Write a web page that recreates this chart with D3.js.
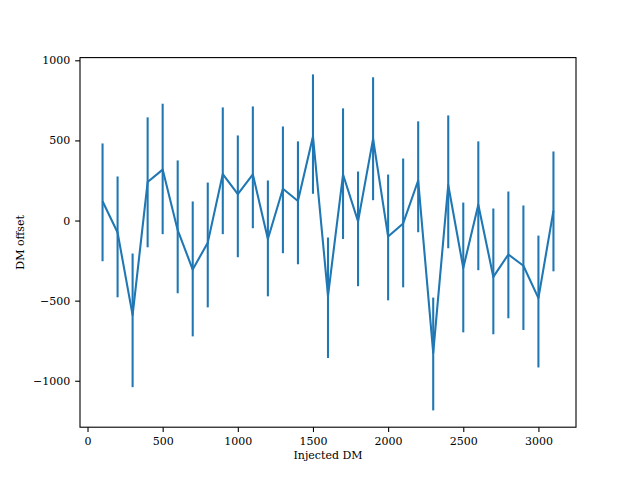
<!DOCTYPE html>
<html>
<head>
<meta charset="utf-8">
<script src="https://cdn.jsdelivr.net/npm/d3@7"></script>
<style>
  body { margin: 0; background: #fff; }
  text { font-family: "DejaVu Serif", serif; fill: #000; }
</style>
</head>
<body>
<div id="chart"></div>
<script>
// injected DM values and the recovered offsets
const injectedDM = [100, 200, 300, 400, 500, 600, 700, 800, 900, 1000,
  1100, 1200, 1300, 1400, 1500, 1600, 1700, 1800, 1900, 2000,
  2100, 2200, 2300, 2400, 2500, 2600, 2700, 2800, 2900, 3000, 3100]
const dmOffset = [120, -75, -590, 240, 318, -60, -306, -138, 290, 165,
  288, -115, 198, 122, 525, -470, 287, -5, 510, -100,
  -18, 250, -826, 222, -296, 99, -352, -212, -282, -484, 62]
// bottom / top of each error bar
const errLow = [-254, -479, -1040, -167, -85, -454, -723, -542, -85, -229,
  -48, -473, -204, -273, 167, -858, -115, -410, 127, -498,
  -417, -73, -1185, -173, -698, -310, -710, -610, -683, -917, -317]
const errHigh = [481, 275, -206, 644, 729, 375, 119, 237, 706, 531,
  712, 250, 587, 494, 912, -106, 700, 306, 894, 287,
  387, 619, -481, 656, 112, 494, 75, 181, 94, -94, 431]

const xTicks = [0, 500, 1000, 1500, 2000, 2500, 3000]
const yTicks = [-1000, -500, 0, 500, 1000]

const W = 640, H = 480
const MARGIN = {TOP: 57.6, RIGHT: 64, BOTTOM: 52.8, LEFT: 80}
const WIDTH = W - MARGIN.LEFT - MARGIN.RIGHT
const HEIGHT = H - MARGIN.TOP - MARGIN.BOTTOM
const BLUE = "#1f77b4"
const TICK = 4.86

const data = injectedDM.map(function(d, i) {
  return {dm: d, off: dmOffset[i], lo: errLow[i], hi: errHigh[i]}
})

const svg = d3.select("#chart").append("svg")
  .attr("width", W)
  .attr("height", H)

const g = svg.append("g")
  .attr("transform", `translate(${MARGIN.LEFT}, ${MARGIN.TOP})`)

// matplotlib style 5% padding
const xr = d3.extent(injectedDM)
const xPad = (xr[1] - xr[0]) * 0.05
const x = d3.scaleLinear()
  .domain([xr[0] - xPad, xr[1] + xPad])
  .range([0, WIDTH])

const yMin = d3.min(errLow), yMax = d3.max(errHigh)
const yPad = (yMax - yMin) * 0.05
const y = d3.scaleLinear()
  .domain([yMin - yPad, yMax + yPad])
  .range([HEIGHT, 0])

// error bars
g.selectAll("line.err")
  .data(data)
  .enter().append("line")
    .attr("class", "err")
    .attr("x1", function(d) {return x(d.dm)})
    .attr("x2", function(d) {return x(d.dm)})
    .attr("y1", function(d) {return y(d.lo)})
    .attr("y2", function(d) {return y(d.hi)})
    .attr("stroke", BLUE)
    .attr("stroke-width", 2.08)

const line = d3.line()
  .x(function(d) {return x(d.dm)})
  .y(function(d) {return y(d.off)})

g.append("path")
  .datum(data)
  .attr("d", line)
  .attr("fill", "none")
  .attr("stroke", BLUE)
  .attr("stroke-width", 2.08)
  .attr("stroke-linejoin", "round")
  .attr("stroke-linecap", "butt")

// axes
const xAxisCall = d3.axisBottom(x)
  .tickValues(xTicks)
  .tickSize(TICK)
  .tickPadding(4.86)
  .tickFormat(d3.format("d"))
const xAxis = g.append("g")
  .attr("transform", `translate(0, ${HEIGHT})`)
  .call(xAxisCall)

const yAxisCall = d3.axisLeft(y)
  .tickValues(yTicks)
  .tickSize(TICK)
  .tickPadding(4.86)
  .tickFormat(function(d) {return d < 0 ? "\u2212" + Math.abs(d) : String(d)})
const yAxis = g.append("g")
  .call(yAxisCall)

;[xAxis, yAxis].forEach(function(a) {
  a.select(".domain").remove()
  a.selectAll("line").attr("stroke", "#000").attr("stroke-width", 1.1)
  a.selectAll("text")
    .attr("font-family", "DejaVu Serif")
    .attr("font-size", "11px")
    .attr("fill", "#000")
})

// frame
g.append("rect")
  .attr("x", 0)
  .attr("y", 0)
  .attr("width", WIDTH)
  .attr("height", HEIGHT)
  .attr("fill", "none")
  .attr("stroke", "#000")
  .attr("stroke-width", 1.1)

// labels
g.append("text")
  .attr("x", WIDTH / 2)
  .attr("y", HEIGHT + 32)
  .attr("font-size", "11px")
  .attr("text-anchor", "middle")
  .text("Injected DM")

g.append("text")
  .attr("transform", "rotate(-90)")
  .attr("x", -HEIGHT / 2)
  .attr("y", -56)
  .attr("font-size", "11px")
  .attr("text-anchor", "middle")
  .text("DM offset")
</script>
</body>
</html>
